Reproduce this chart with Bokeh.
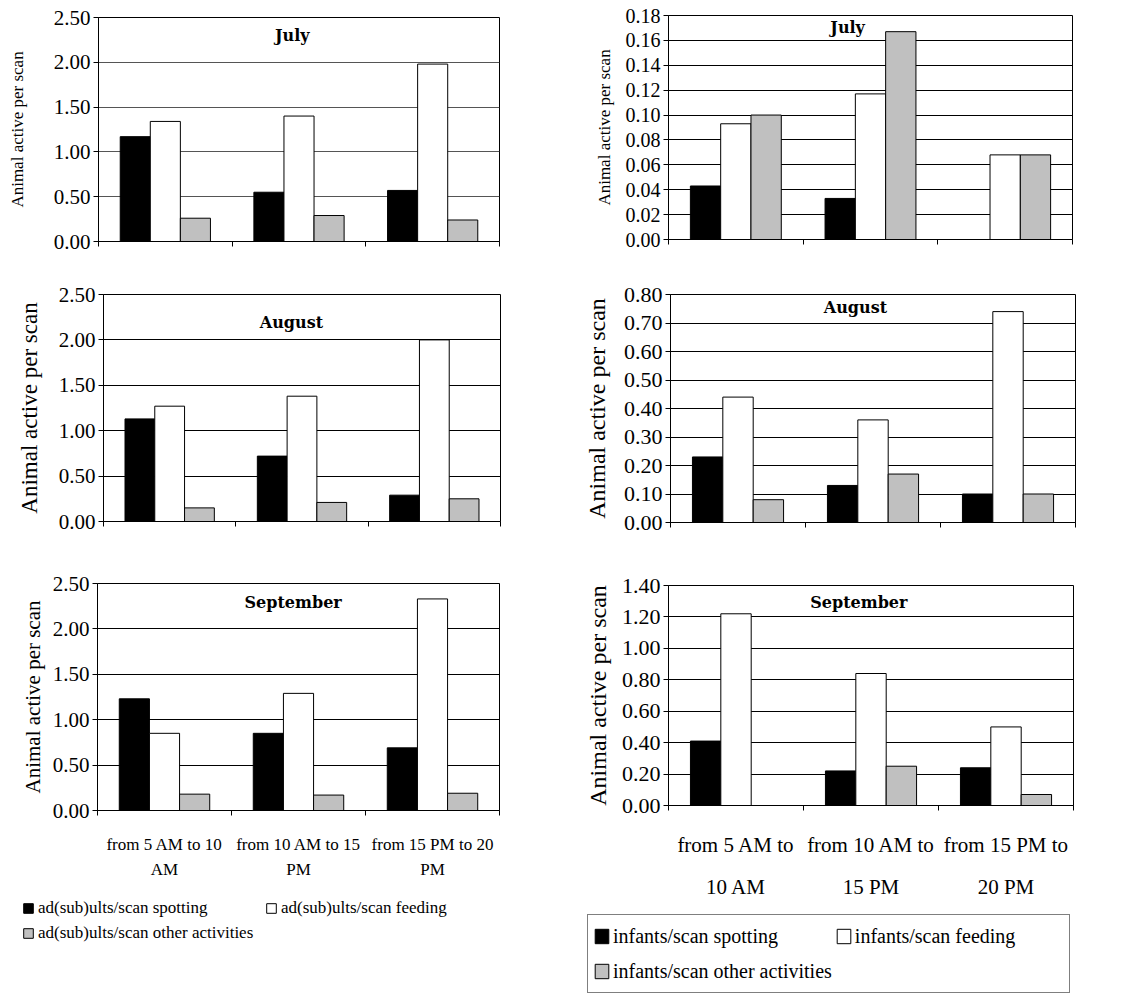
from bokeh.plotting import figure
from bokeh.models import (Range1d, FixedTicker, LinearAxis, Legend, LegendItem, Label,
                          ColumnDataSource, PrintfTickFormatter, Grid)
from bokeh.layouts import column, row
from bokeh.transform import dodge
from bokeh.embed import file_html
from bokeh.resources import INLINE

# ---------------- data ----------------
periods = ["from 5 AM to 10 AM", "from 10 AM to 15 PM", "from 15 PM to 20 PM"]
left_line1 = ["from 5 AM to 10", "from 10 AM to 15", "from 15 PM to 20"]
left_line2 = ["AM", "PM", "PM"]
right_line1 = ["from 5 AM to", "from 10 AM to", "from 15 PM to"]
right_line2 = ["10 AM", "15 PM", "20 PM"]

adult_names = ["ad(sub)ults/scan spotting", "ad(sub)ults/scan feeding",
               "ad(sub)ults/scan other activities"]
infant_names = ["infants/scan spotting", "infants/scan feeding",
                "infants/scan other activities"]

adult_jul_spot = [1.17, 0.55, 0.57]
adult_jul_feed = [1.34, 1.40, 1.98]
adult_jul_other = [0.26, 0.29, 0.24]

adult_aug_spot = [1.13, 0.72, 0.29]
adult_aug_feed = [1.27, 1.38, 2.00]
adult_aug_other = [0.15, 0.21, 0.25]

adult_sep_spot = [1.23, 0.85, 0.69]
adult_sep_feed = [0.85, 1.29, 2.33]
adult_sep_other = [0.18, 0.17, 0.19]

infant_jul_spot = [0.043, 0.033, 0.0]
infant_jul_feed = [0.093, 0.117, 0.068]
infant_jul_other = [0.100, 0.167, 0.068]

infant_aug_spot = [0.23, 0.13, 0.10]
infant_aug_feed = [0.44, 0.36, 0.74]
infant_aug_other = [0.08, 0.17, 0.10]

infant_sep_spot = [0.41, 0.22, 0.24]
infant_sep_feed = [1.22, 0.84, 0.50]
infant_sep_other = [0.00, 0.25, 0.07]

adult_ticks = [0.0, 0.5, 1.0, 1.5, 2.0, 2.5]
infant_jul_ticks = [0.0, 0.02, 0.04, 0.06, 0.08, 0.10, 0.12, 0.14, 0.16, 0.18]
infant_aug_ticks = [0.0, 0.1, 0.2, 0.3, 0.4, 0.5, 0.6, 0.7, 0.8]
infant_sep_ticks = [0.0, 0.2, 0.4, 0.6, 0.8, 1.0, 1.2, 1.4]

SERIF = "Liberation Serif"
SLAB = "DejaVu Serif"
GRAY = "#c0c0c0"
BAR_STYLES = [("black", "spot"), ("white", "feed"), (GRAY, "other")]


def make_panel(spot, feed, other, title, title_x, title_frac, ticks,
               width, height, bl, br, bt, bb, tick_size, label_size, label_standoff,
               grid_color="black"):
    ymax = ticks[-1]
    n = len(periods)
    p = figure(width=width, height=height, x_range=Range1d(0, n), y_range=Range1d(0, ymax),
               x_axis_type=None, y_axis_type=None, output_backend="svg",
               toolbar_location=None, min_border_left=bl, min_border_right=br,
               min_border_top=bt, min_border_bottom=bb, outline_line_color="black",
               background_fill_color="white", border_fill_color="white")
    yaxis = LinearAxis(ticker=FixedTicker(ticks=ticks),
                       formatter=PrintfTickFormatter(format="%.2f"),
                       axis_label="Animal active per scan",
                       axis_label_text_font=SERIF, axis_label_text_font_size=label_size,
                       axis_label_text_font_style="normal", axis_label_text_color="black",
                       axis_label_standoff=label_standoff,
                       major_label_text_font=SERIF, major_label_text_font_size=tick_size,
                       major_label_text_color="black", major_label_standoff=3,
                       major_tick_out=5, major_tick_in=0, minor_tick_out=0, minor_tick_in=0,
                       axis_line_color="black", major_tick_line_color="black")
    p.add_layout(yaxis, "left")
    p.add_layout(Grid(dimension=1, ticker=yaxis.ticker, grid_line_color=grid_color))

    src = ColumnDataSource(dict(x=[i + 0.5 for i in range(n)], spot=spot, feed=feed, other=other))
    bw = 0.225
    for k, (color, col) in enumerate(BAR_STYLES):
        p.vbar(x=dodge("x", (k - 1) * bw, range=p.x_range), top=col, width=bw, source=src,
               fill_color=color, line_color="black", line_width=1)

    p.add_layout(Label(x=title_x, y=ymax * title_frac, text=title, text_font=SLAB,
                       text_font_style="bold", text_font_size="16px", text_color="black",
                       text_align="center", text_baseline="middle"))
    return p


def boundary_axis(p):
    n = len(periods)
    ax = LinearAxis(ticker=FixedTicker(ticks=[], minor_ticks=list(range(n + 1))),
                    major_tick_out=0, major_tick_in=0, minor_tick_out=5, minor_tick_in=0,
                    axis_line_color="black", minor_tick_line_color="black")
    p.add_layout(ax, "below")


def label_axes(p, line1, line2, font_size, standoff1, standoff2):
    n = len(periods)
    centers = [i + 0.5 for i in range(n)]
    ax1 = LinearAxis(ticker=FixedTicker(ticks=centers, minor_ticks=list(range(n + 1))),
                     major_tick_out=0, major_tick_in=0, minor_tick_out=5, minor_tick_in=0,
                     major_label_overrides={c: t for c, t in zip(centers, line1)},
                     major_label_text_font=SERIF, major_label_text_font_size=font_size,
                     major_label_text_color="black", major_label_standoff=standoff1,
                     axis_line_color="black", minor_tick_line_color="black")
    ax2 = LinearAxis(ticker=FixedTicker(ticks=centers),
                     major_tick_out=0, major_tick_in=0, minor_tick_out=0, minor_tick_in=0,
                     major_label_overrides={c: t for c, t in zip(centers, line2)},
                     major_label_text_font=SERIF, major_label_text_font_size=font_size,
                     major_label_text_color="black", major_label_standoff=standoff2,
                     axis_line_color=None, major_tick_line_color=None)
    p.add_layout(ax1, "below")
    p.add_layout(ax2, "below")


def legend_fig(names, width, height, loc, glyph_w, glyph_h, standoff, spacing,
               label_width, label_height, padding, border, font_size):
    # legend-only panel: proxy renderers sit outside the visible range
    p = figure(width=width, height=height, x_range=Range1d(0, 1), y_range=Range1d(0, 1),
               x_axis_type=None, y_axis_type=None, output_backend="svg",
               toolbar_location=None, min_border=0, outline_line_color=None,
               background_fill_color="white", border_fill_color="white")
    items = []
    for nm, (color, _) in zip(names, BAR_STYLES):
        r = p.vbar(x=[-5], top=[0], width=0.1, fill_color=color, line_color="black",
                   line_width=1)
        items.append(LegendItem(label=nm, renderers=[r]))
    leg = Legend(items=items, location=loc, orientation="horizontal", ncols=2,
                 glyph_width=glyph_w, glyph_height=glyph_h, label_standoff=standoff,
                 spacing=spacing, label_width=label_width, label_height=label_height,
                 padding=padding, margin=0, border_line_color=border, border_line_width=1,
                 background_fill_color="white", label_text_font=SERIF,
                 label_text_font_size=font_size, label_text_color="black")
    p.add_layout(leg)
    return p


# ---------------- left column (adults) ----------------
pa1 = make_panel(adult_jul_spot, adult_jul_feed, adult_jul_other,
                 "July", 1.45, 0.92, adult_ticks, 558, 265, 98, 59, 17, 24,
                 "21px", "17px", 24, grid_color="#555555")
boundary_axis(pa1)
pa2 = make_panel(adult_aug_spot, adult_aug_feed, adult_aug_other,
                 "August", 1.42, 0.877, adult_ticks, 558, 280, 103, 58, 29, 24,
                 "21px", "23px", 14)
boundary_axis(pa2)
pa3 = make_panel(adult_sep_spot, adult_sep_feed, adult_sep_other,
                 "September", 1.46, 0.916, adult_ticks, 558, 350, 97, 59, 38, 85,
                 "21px", "21px", 5)
label_axes(pa3, left_line1, left_line2, "17px", 19, 3)
la = legend_fig(adult_names, 558, 95, (22, 47), 12, 12, 4, 5, 222, 0, 0, None, "17px")

# ---------------- right column (infants) ----------------
pb1 = make_panel(infant_jul_spot, infant_jul_feed, infant_jul_other,
                 "July", 1.33, 0.946, infant_jul_ticks, 558, 265, 110, 44, 15, 26,
                 "20px", "17px", 9)
boundary_axis(pb1)
pb2 = make_panel(infant_aug_spot, infant_aug_feed, infant_aug_other,
                 "August", 1.37, 0.943, infant_aug_ticks, 558, 280, 112, 41, 29, 23,
                 "22px", "24px", 11)
boundary_axis(pb2)
pb3 = make_panel(infant_sep_spot, infant_sep_feed, infant_sep_other,
                 "September", 1.41, 0.923, infant_sep_ticks, 558, 360, 110, 43, 40, 100,
                 "22px", "24px", 8)
label_axes(pb3, right_line1, right_line2, "21px", 22, 15)
lb = legend_fig(infant_names, 558, 88, (29, 0), 17, 18, 3, 3, 209, 32, 5, "black", "20px")

# each figure wrapped on its own so that frames keep their own borders
left_col = column(*[row(f) for f in (pa1, pa2, pa3, la)])
right_col = column(*[row(f) for f in (pb1, pb2, pb3, lb)])
layout = row(left_col, right_col)

open("out.html", "w").write(file_html(layout, INLINE))
